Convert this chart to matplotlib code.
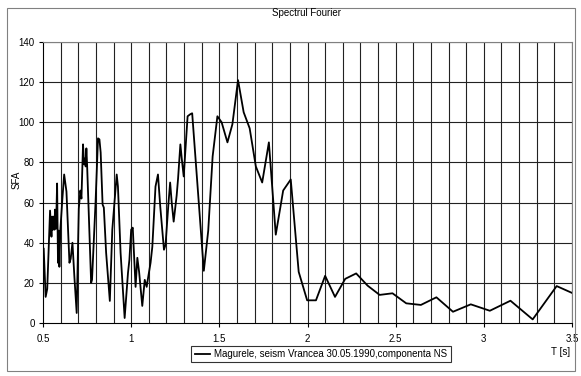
import matplotlib
matplotlib.use("Agg")
import matplotlib.pyplot as plt
from matplotlib.patches import Rectangle

plt.rcParams['font.family'] = ['Liberation Sans', 'DejaVu Sans']

period = [0.504, 0.515, 0.524, 0.540, 0.548, 0.552, 0.556, 0.560, 0.565, 0.568,
          0.574, 0.580, 0.585, 0.589, 0.593, 0.598, 0.610, 0.620, 0.633, 0.650,
          0.657, 0.667, 0.678, 0.691, 0.703, 0.712, 0.718, 0.727, 0.733, 0.738,
          0.742, 0.746, 0.750, 0.773, 0.778, 0.798, 0.812, 0.820, 0.827, 0.838,
          0.845, 0.858, 0.879, 0.893, 0.918, 0.925, 0.940, 0.963, 0.982, 0.990,
          1.000, 1.009, 1.025, 1.035, 1.045, 1.063, 1.077, 1.088, 1.095, 1.110,
          1.120, 1.138, 1.152, 1.165, 1.186, 1.195, 1.211, 1.221, 1.230, 1.241,
          1.258, 1.266, 1.279, 1.288, 1.298, 1.320, 1.335, 1.346, 1.412, 1.437,
          1.462, 1.489, 1.513, 1.546, 1.574, 1.606, 1.638, 1.672, 1.707, 1.743,
          1.781, 1.820, 1.862, 1.905, 1.950, 1.998, 2.048, 2.100, 2.156, 2.214,
          2.276, 2.341, 2.409, 2.482, 2.560, 2.643, 2.731, 2.825, 2.926, 3.034,
          3.151, 3.277, 3.413, 3.561]
sfa = [37, 13, 17, 56, 43, 53, 46.5, 53, 46.5, 56.5,
       47, 69.5, 30, 46, 28, 46, 62, 74, 65.5, 30,
       32, 40, 23, 5, 57, 66, 62, 89, 79, 82,
       78, 87, 79, 20, 21.5, 60, 92, 91.5, 85, 59,
       57.5, 35, 11, 46.5, 74, 68, 35, 2.5, 25, 31.5,
       46.5, 47.5, 18, 32.5, 25.5, 8.5, 21.5, 18, 22, 30,
       38, 68, 74, 58, 36.5, 39, 59, 70, 60, 50.5,
       63.5, 72, 89, 81, 73, 103, 104, 104.5, 26, 46,
       83, 103, 100, 90, 99, 121, 105, 97, 78, 70,
       90, 44, 66, 71.5, 25.5, 11.3, 11.3, 23.5, 13, 22,
       24.7, 18.6, 14, 14.8, 9.8, 9, 12.8, 5.6, 9.3, 6.1,
       11.1, 1.8, 18.4, 12.6]

title = "Spectrul Fourier"
series_label = "Magurele, seism Vrancea 30.05.1990,componenta NS"
xlabel = "T [s]"
ylabel = "SFA"

W, H = 581, 376
fig = plt.figure(figsize=(W / 100, H / 100), dpi=100)
ax = fig.add_axes([43 / W, 1 - 323 / H, (572 - 43) / W, (323 - 42) / H])

ax.set_xlim(0.5, 3.5)
ax.set_ylim(0, 140)

# grid
for i in range(1, 31):
    ax.axvline(0.5 + i * 0.1, color='#222222', lw=0.8, zorder=1)
for v in range(20, 141, 20):
    ax.axhline(v, color='#222222', lw=0.8, zorder=1)

ax.plot(period, sfa, color='black', lw=1.3, zorder=3, label=series_label)

ax.set_xticks([0.5, 1, 1.5, 2, 2.5, 3, 3.5])
ax.set_xticklabels(['0.5', '1', '1.5', '2', '2.5', '3', '3.5'])
ax.set_yticks(range(0, 141, 20))
ax.tick_params(axis='both', labelsize=7, length=3, width=0.8, direction='out', pad=3)
ax.tick_params(axis='x', pad=5)
for s in ['top', 'right']:
    ax.spines[s].set_color('#808080')
for s in ['left', 'bottom']:
    ax.spines[s].set_color('black')
    ax.spines[s].set_linewidth(0.8)

fig.text(307 / W, 1 - 13 / H, title, ha='center', va='center', fontsize=7)
fig.text(17 / W, 1 - 180 / H, ylabel, ha='center', va='center', fontsize=7, rotation=90)
fig.text(570 / W, 1 - 352 / H, xlabel, ha='right', va='center', fontsize=7)

leg = fig.legend(loc='center', bbox_to_anchor=(321 / W, 1 - 354 / H), fontsize=7,
                 frameon=True, fancybox=False, edgecolor='black', handlelength=1.6,
                 borderpad=0.35, handletextpad=0.4, borderaxespad=0)
leg.get_frame().set_linewidth(0.8)

fig.patches.append(Rectangle((7 / W, 5 / H), (575 - 7) / W, (368 - 5) / H,
                             transform=fig.transFigure, fill=False,
                             edgecolor='#808080', lw=0.8))

fig.savefig('out.png', dpi=100)
